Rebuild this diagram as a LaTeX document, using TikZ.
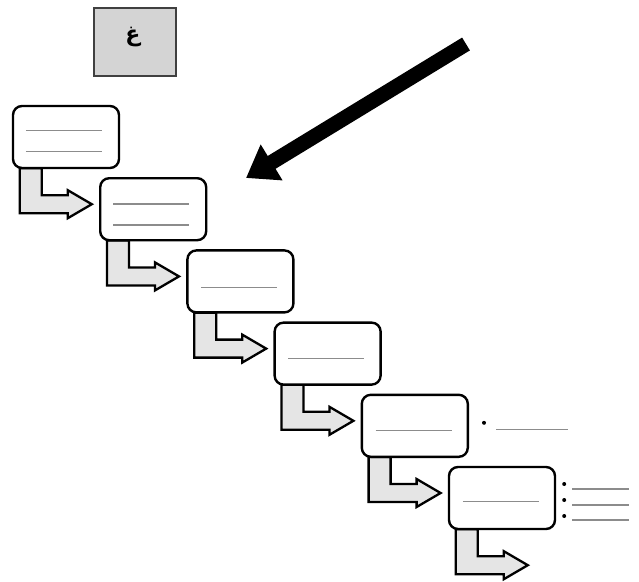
\documentclass[tikz,border=0pt]{standalone}
\usepackage{fontspec}
\newfontfamily\arabicfont[Script=Arabic]{DejaVu Sans}
\TeXXeTstate=1
\usetikzlibrary{calc,arrows.meta}
\tikzset{
  stepbox/.style={draw=black, line width=2.4pt, rounded corners=9pt, fill=white,
    minimum width=106pt, minimum height=62pt, inner sep=0pt},
  conn/.style={draw=black, line width=2.3pt, fill=black!10, line join=miter},
  blank/.style={draw=black!45, line width=1.3pt},
  dotmark/.style={fill=black, circle, inner sep=0pt, minimum size=4pt},
  keybox/.style={draw=black!75, line width=2.6pt, fill=black!17, minimum width=82pt, minimum height=68pt, inner sep=0pt},
}
\newcommand\stepconn[1]{%
  \draw[conn] ($(#1.south west)+(30,-1)$) -- ++(0,27) -- ++(26,0) -- ++(0,-5)
    -- ++(24,14) -- ++(-24,14) -- ++(0,-5) -- ++(-48,0) -- ++(0,-45) -- cycle;}
\begin{document}
\begin{tikzpicture}[x=1pt,y=-1pt]
\useasboundingbox (0,0) rectangle (639,581);
% key box
\node[keybox] (key) at (135,42) {};
\node (glyph) at (133,37) {\fontsize{22}{24}\selectfont\bfseries\arabicfont\beginR غ\endR};
% big arrow
\coordinate (tail) at (466,44);
\coordinate (tip) at (246,178);
\draw[line width=15pt, -{Triangle[length=30pt,width=40pt]}] (tail) -- (tip);
% boxes
\foreach \i in {1,...,6}{
  \pgfmathsetmacro\bx{13+87.2*(\i-1)+53}
  \pgfmathsetmacro\by{106+72.2*(\i-1)+31}
  \coordinate (c\i) at (\bx,\by);
}
% connectors first
\foreach \i in {1,...,6}{
  \node[stepbox, fill=none, draw=none] (g\i) at (c\i) {};
}
\stepconn{g1}\stepconn{g2}\stepconn{g3}\stepconn{g4}\stepconn{g5}\stepconn{g6}
\foreach \i in {1,...,6}{
  \node[stepbox] (b\i) at (c\i) {};
}
% blanks inside boxes
\draw[blank] ($(b1.north west)+(14,26)$) -- ++(76,0);
\draw[blank] ($(b1.north west)+(14,47)$) -- ++(76,0);
\draw[blank] ($(b2.north west)+(14,27)$) -- ++(76,0);
\draw[blank] ($(b2.north west)+(14,48)$) -- ++(76,0);
\draw[blank] ($(b3.north west)+(15,38)$) -- ++(76,0);
\draw[blank] ($(b4.north west)+(15,37)$) -- ++(76,0);
\draw[blank] ($(b5.north west)+(15,37)$) -- ++(76,0);
\draw[blank] ($(b6.north west)+(15,36)$) -- ++(76,0);
% extra bullets
\node[dotmark] (d5) at ($(b5.east)+(15,-3)$) {};
\draw[blank] ($(b5.east)+(27,4)$) -- ++(72,0);
\node[dotmark] (d61) at ($(b6.east)+(8,-14)$) {};
\node[dotmark] (d62) at ($(b6.east)+(8,2)$) {};
\node[dotmark] (d63) at ($(b6.east)+(8,18)$) {};
\draw[blank] ($(b6.east)+(16,-9)$) -- ++(57,0);
\draw[blank] ($(b6.east)+(16,7)$) -- ++(57,0);
\draw[blank] ($(b6.east)+(16,22)$) -- ++(57,0);
\end{tikzpicture}
\end{document}
